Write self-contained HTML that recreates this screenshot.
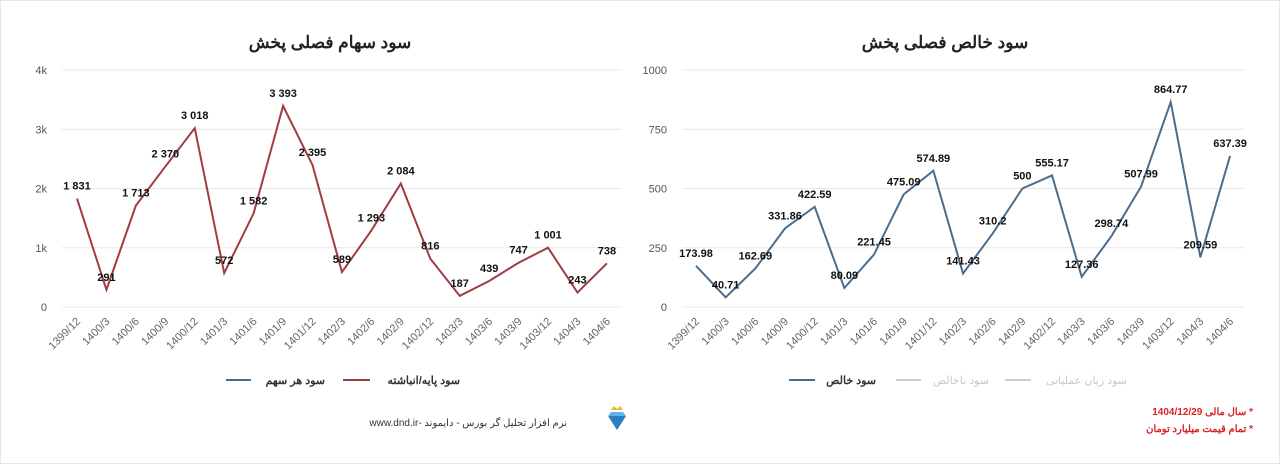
<!DOCTYPE html>
<html><head><meta charset="utf-8">
<style>
html,body{margin:0;padding:0;background:#fff;width:1280px;height:465px;overflow:hidden}
svg{display:block}
text{font-family:"Liberation Sans","Noto Sans CJK SC",sans-serif}
</style></head><body>
<svg id="s" width="1280" height="465" viewBox="0 0 1280 465" xmlns="http://www.w3.org/2000/svg">
<rect x="0.5" y="0.5" width="1279" height="463" fill="#fff" stroke="#e6e6e6"/>
<text x="330" y="48" text-anchor="middle" font-size="17" font-weight="bold" fill="#222" direction="rtl">سود سهام فصلی پخش</text>
<text x="945" y="48" text-anchor="middle" font-size="17" font-weight="bold" fill="#222" direction="rtl">سود خالص فصلی پخش</text>
<g id="g"></g>
<!-- legends -->
<line x1="226" y1="380" x2="251" y2="380" stroke="#4a6d8c" stroke-width="2"/>
<text x="325" y="384" text-anchor="start" font-size="11" font-weight="bold" fill="#333" direction="rtl">سود هر سهم</text>
<line x1="343" y1="380" x2="370" y2="380" stroke="#a03c42" stroke-width="2"/>
<text x="460" y="384" text-anchor="start" font-size="11" font-weight="bold" fill="#333" direction="rtl">سود پایه/انباشته</text>
<line x1="789" y1="380" x2="815" y2="380" stroke="#4a6d8c" stroke-width="2"/>
<text x="876" y="384" text-anchor="start" font-size="11" font-weight="bold" fill="#333" direction="rtl">سود خالص</text>
<line x1="896" y1="380" x2="921" y2="380" stroke="#ccc" stroke-width="2"/>
<text x="989" y="384" text-anchor="start" font-size="11" fill="#c8c8c8" direction="rtl">سود ناخالص</text>
<line x1="1005" y1="380" x2="1031" y2="380" stroke="#ccc" stroke-width="2"/>
<text x="1127" y="384" text-anchor="start" font-size="11" fill="#c8c8c8" direction="rtl">سود زیان عملیاتی</text>
<!-- footer -->
<text x="567" y="426" text-anchor="start" font-size="10" fill="#333" direction="rtl">نرم افزار تحلیل گر بورس - دایموند -www.dnd.ir</text>
<polygon points="608,416 626,416 617,430" fill="#2a7fc4"/>
<polygon points="608,416 626,416 623,412 611,412" fill="#5cb4ea"/>
<polygon points="611,410 614,406 617,409 620,406 623,410" fill="#e8b830"/>
<text x="1253" y="415" text-anchor="start" font-size="10" font-weight="bold" fill="#d22" direction="rtl">* سال مالی 1404/12/29</text>
<text x="1253" y="432" text-anchor="start" font-size="10" font-weight="bold" fill="#d22" direction="rtl">* تمام قیمت میلیارد تومان</text>
</svg>
<script>
var g=document.getElementById('g');var NS='http://www.w3.org/2000/svg';
var cats=['1399/12','1400/3','1400/6','1400/9','1400/12','1401/3','1401/6','1401/9','1401/12','1402/3','1402/6','1402/9','1402/12','1403/3','1403/6','1403/9','1403/12','1404/3','1404/6'];
function el(t,a,txt){var e=document.createElementNS(NS,t);for(var k in a)e.setAttribute(k,a[k]);if(txt!=null)e.textContent=txt;g.appendChild(e);return e;}
function chart(o){
 for(var i=0;i<o.ticks.length;i++){var y=307-i*(237/(o.ticks.length-1));
  el('line',{x1:o.gx1,x2:o.gx2,y1:y,y2:y,stroke:'#e8e8e8','stroke-width':1});
  el('text',{x:o.tx,y:y+4,'text-anchor':'end','font-size':11,fill:'#555'},o.ticks[i]);}
 var pts=[];
 for(var i=0;i<cats.length;i++){var x=o.x0+i*o.step;var y=307-o.v[i]/o.max*237;pts.push(x+','+y);
  el('text',{x:x+4,y:322,'text-anchor':'end','font-size':11,fill:'#666',transform:'rotate(-45 '+(x+4)+' 322)'},cats[i]);}
 el('polyline',{points:pts.join(' '),fill:'none',stroke:o.c,'stroke-width':2,'stroke-linejoin':'miter'});
 for(var i=0;i<cats.length;i++){var x=o.x0+i*o.step;var y=307-o.v[i]/o.max*237;
  el('text',{x:x,y:y-9,'text-anchor':'middle','font-size':11,'font-weight':'bold',fill:'#111'},o.l[i]);}
}
chart({gx1:62,gx2:622,tx:47,ticks:['0','1k','2k','3k','4k'],x0:77,step:29.44,max:4000,c:'#a03c42',
 v:[1831,291,1713,2370,3018,572,1582,3393,2395,589,1293,2084,816,187,439,747,1001,243,738],
 l:['1 831','291','1 713','2 370','3 018','572','1 582','3 393','2 395','589','1 293','2 084','816','187','439','747','1 001','243','738']});
chart({gx1:682,gx2:1244,tx:667,ticks:['0','250','500','750','1000'],x0:696,step:29.67,max:1000,c:'#4a6d8c',
 v:[173.98,40.71,162.69,331.86,422.59,80.09,221.45,475.09,574.89,141.43,310.2,500,555.17,127.36,298.74,507.99,864.77,209.59,637.39],
 l:['173.98','40.71','162.69','331.86','422.59','80.09','221.45','475.09','574.89','141.43','310.2','500','555.17','127.36','298.74','507.99','864.77','209.59','637.39']});
</script>
</body></html>
